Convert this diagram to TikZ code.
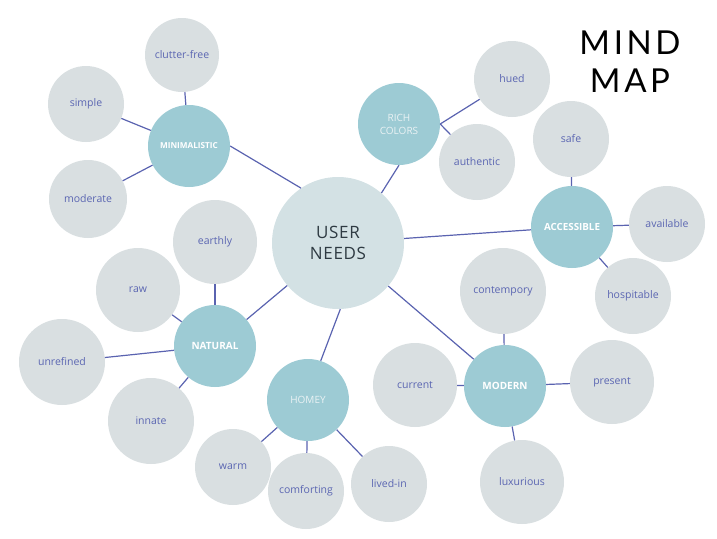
\documentclass[tikz,border=0pt]{standalone}
\usepackage{fontspec}
\setmainfont{Open Sans}
\newfontfamily\titlefont[LetterSpace=11]{Lato}
\newfontfamily\centerfont[LetterSpace=4]{Open Sans}
\definecolor{leafc}{HTML}{D9DFE1}
\definecolor{catc}{HTML}{9DCBD4}
\definecolor{hubc}{HTML}{D3E1E4}
\definecolor{txtc}{HTML}{5B66B2}
\definecolor{linec}{HTML}{5A63B0}
\definecolor{hubtxt}{HTML}{2E3A42}
\definecolor{softw}{HTML}{EAF2F4}
\begin{document}
\begin{tikzpicture}[x=1pt,y=-1pt,
  leaf/.style={circle, fill=leafc, minimum size=#1, inner sep=0pt, text=txtc, font=\fontsize{10.5}{12}\selectfont},
  leaf/.default=76pt,
  cat/.style={circle, fill=catc, minimum size=82pt, inner sep=0pt, text=white, font=\bfseries\fontsize{10}{11}\selectfont},
  catsoft/.style={cat, text=softw, align=center, font=\fontsize{10}{13}\selectfont},
  link/.style={draw=linec, line width=1.2pt}]
\path[use as bounding box] (0,0) rectangle (717,538);
% hub
\node[circle, fill=hubc, minimum size=132pt, inner sep=0pt, text=hubtxt, align=center,
  font=\centerfont\fontsize{17}{21}\selectfont] (hub) at (338,243) {USER\\NEEDS};
% categories
\node[cat, font=\bfseries\fontsize{8.2}{10}\selectfont] (mini) at (189,146) {MINIMALISTIC};
\node[catsoft] (rich) at (399,124) {RICH\\COLORS};
\node[cat, font=\bfseries\fontsize{9.8}{11}\selectfont] (acc) at (572,227) {ACCESSIBLE};
\node[cat] (nat) at (215,346) {NATURAL};
\node[catsoft] (homey) at (308,400) {HOMEY};
\node[cat] (mod) at (505,386) {MODERN};
% leaves
\node[leaf=74pt] (clut) at (182,55) {clutter-free};
\node[leaf] (simple) at (86,104) {simple};
\node[leaf=78pt] (moder) at (88,199) {moderate};
\node[leaf=84pt] (earth) at (215,242) {earthly};
\node[leaf=84pt] (raw) at (138,290) {raw};
\node[leaf=86pt] (unref) at (62,362) {unrefined};
\node[leaf=86pt] (innate) at (151,421) {innate};
\node[leaf] (hued) at (512,79) {hued};
\node[leaf] (auth) at (477,162) {authentic};
\node[leaf] (safe) at (571,139) {safe};
\node[leaf] (avail) at (667,224) {available};
\node[leaf] (hosp) at (633,296) {hospitable};
\node[leaf=86pt] (cont) at (503,291) {contempory};
\node[leaf=84pt] (curr) at (415,385) {current};
\node[leaf=84pt] (pres) at (612,382) {present};
\node[leaf=84pt] (lux) at (522,482) {luxurious};
\node[leaf] (warm) at (233,467) {warm};
\node[leaf] (comf) at (306,491) {comforting};
\node[leaf] (lived) at (389,484) {lived-in};
% title
\node[font=\titlefont\fontsize{33}{38}\selectfont, text=black, inner sep=0pt] (t1) at (630,43) {MIND};
\node[font=\titlefont\fontsize{33}{38}\selectfont, text=black, inner sep=0pt] (t2) at (630,81) {MAP};
% links
\draw[link] (hub.124) -- (mini.east);
\draw[link] (hub.49) -- (rich.south);
\draw[link] (hub) -- (acc);
\draw[link] (hub) -- (nat);
\draw[link] (hub.-88) -- (homey.72);
\draw[link] (hub) -- (mod);
\draw[link] (mini) -- (clut);
\draw[link] (mini) -- (simple);
\draw[link] (mini) -- (moder);
\draw[link] (rich.east) -- (hued);
\draw[link] (rich.east) -- (auth);
\draw[link] (acc) -- (safe);
\draw[link] (acc) -- (avail);
\draw[link] (acc) -- (hosp);
\draw[link] (nat) -- (earth);
\draw[link] (nat) -- (raw);
\draw[link] (nat) -- (unref);
\draw[link] (nat) -- (innate);
\draw[link] (homey) -- (warm);
\draw[link] (homey) -- (comf);
\draw[link] (homey) -- (lived);
\draw[link] (mod) -- (cont);
\draw[link] (mod) -- (curr);
\draw[link] (mod) -- (pres);
\draw[link] (mod) -- (lux);
\end{tikzpicture}
\end{document}
